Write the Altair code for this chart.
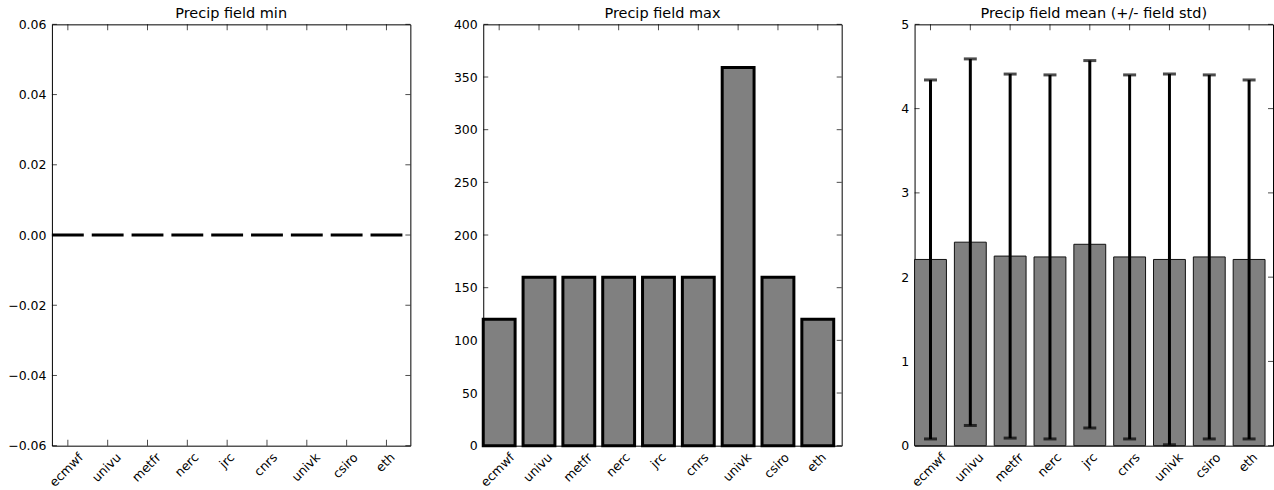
import altair as alt
import pandas as pd

names = ["ecmwf", "univu", "metfr", "nerc", "jrc", "cnrs", "univk", "csiro", "eth"]
field_min = [0, 0, 0, 0, 0, 0, 0, 0, 0]
field_max = [120, 160, 160, 160, 160, 160, 359, 160, 120]
field_mean = [2.21, 2.415, 2.25, 2.24, 2.39, 2.24, 2.21, 2.24, 2.21]
field_std = [2.13, 2.175, 2.16, 2.16, 2.18, 2.16, 2.20, 2.16, 2.13]
min_ticks = [-0.06, -0.04, -0.02, 0.0, 0.02, 0.04, 0.06]
max_ticks = [0, 50, 100, 150, 200, 250, 300, 350, 400]
mean_ticks = [0, 1, 2, 3, 4, 5]
titles = ["Precip field min", "Precip field max", "Precip field mean (+/- field std)"]

df = pd.DataFrame({"name": names, "vmin": field_min, "vmax": field_max,
                   "mean": field_mean, "std": field_std})
df["lo"] = df["mean"] - df["std"]
df["hi"] = df["mean"] + df["std"]

W, H = 359, 422
FONT = "DejaVu Sans"
LBL = 12.5

label_shift = {"ecmwf": 9, "univu": 7, "metfr": 7, "nerc": 5, "jrc": 1,
               "cnrs": 4, "univk": 7, "csiro": 5, "eth": 2}
offset_cond = {"condition": [{"test": f"datum.value === '{k}'", "value": v}
                             for k, v in label_shift.items()], "value": 6}

xaxis = alt.Axis(title=None, grid=False, domain=False, ticks=False,
                 labelAngle=-45, labelAlign="right", labelBaseline="top",
                 labelPadding=5, labelOffset=offset_cond, labelOverlap=False,
                 labelFont=FONT, labelFontSize=LBL, labelColor="black")
xscale = alt.Scale(paddingInner=0.2, paddingOuter=0.1, align=0)


def xenc():
    return alt.X("name:N", sort=names, scale=xscale, axis=xaxis)


def panel(idx, field, ticks, fmt, ext, domain):
    yscale = alt.Scale(domain=domain, nice=False, zero=False)
    yaxis = alt.Axis(title=None, grid=False, domain=False, ticks=False,
                     values=ticks, format=fmt, labelPadding=6,
                     labelFont=FONT, labelFontSize=LBL, labelColor="black",
                     minExtent=ext, maxExtent=ext, labelOverlap=False)
    tdf = pd.DataFrame({"t": ticks})
    base_t = alt.Chart(tdf).mark_tick(orient="horizontal", size=5, thickness=1, color="black")
    lt = base_t.encode(y=alt.Y("t:Q", scale=yscale, axis=yaxis), x=alt.value(2.5))
    rt = base_t.encode(y=alt.Y("t:Q", scale=yscale, axis=yaxis), x=alt.value(W - 2.5))
    base_x = alt.Chart(df).mark_tick(orient="vertical", size=6, thickness=1, color="black")
    tt = base_x.encode(x=xenc(), y=alt.value(3))
    bt = base_x.encode(x=xenc(), y=alt.value(H - 3))
    layers = [lt, rt, tt, bt]
    if idx in (0, 1):
        bars = alt.Chart(df).mark_bar(color="#808080", stroke="black", strokeWidth=3).encode(
            x=xenc(), y=alt.Y(f"{field}:Q", scale=yscale, axis=yaxis))
        layers.append(bars)
    else:
        bars = alt.Chart(df).mark_bar(color="#808080", stroke="#111111", strokeWidth=1).encode(
            x=xenc(), y=alt.Y("mean:Q", scale=yscale, axis=yaxis))
        err = alt.Chart(df).mark_rule(color="black", strokeWidth=3).encode(
            x=xenc(), y=alt.Y("lo:Q", scale=yscale, axis=yaxis), y2="hi:Q")
        cap_hi = alt.Chart(df).mark_tick(orient="horizontal", size=13, thickness=3, color="black").encode(
            x=xenc(), y=alt.Y("hi:Q", scale=yscale, axis=yaxis))
        cap_lo = alt.Chart(df).mark_tick(orient="horizontal", size=13, thickness=3, color="black").encode(
            x=xenc(), y=alt.Y("lo:Q", scale=yscale, axis=yaxis))
        layers += [bars, err, cap_hi, cap_lo]
    return alt.layer(*layers).properties(
        width=W, height=H,
        title=alt.Title(titles[idx], font=FONT, fontSize=14.5, fontWeight="normal",
                        color="black", offset=-3))


p1 = panel(0, "vmin", min_ticks, ".2f", 51, [-0.06, 0.06])
p2 = panel(1, "vmax", max_ticks, "d", 71, [0, 400])
p3 = panel(2, "mean", mean_ticks, "d", 71, [0, 5])

chart = alt.hconcat(p1, p2, p3, spacing=0).properties(
    padding={"left": 0, "right": 0, "top": 5, "bottom": 0},
    background="white"
).configure_view(stroke="black", strokeWidth=1)

chart.save("out.html", embed_options={"renderer": "svg", "actions": False})
